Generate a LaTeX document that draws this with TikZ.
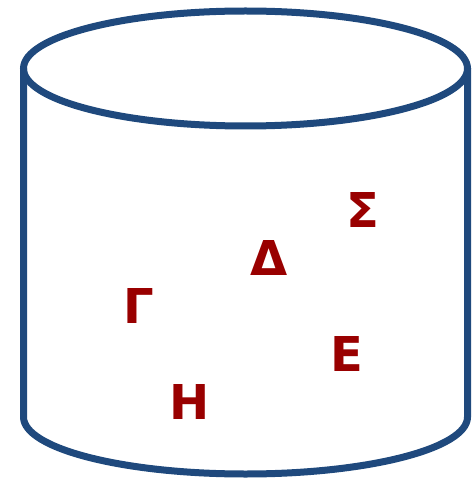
\documentclass[tikz,border=0pt]{standalone}
\usepackage{fontspec}
\setmainfont{DejaVu Sans}
\usepackage{tikz}
\definecolor{drumblue}{HTML}{1F497D}
\definecolor{letterred}{HTML}{990000}

\begin{document}
\begin{tikzpicture}[
    x=1pt, y=-1pt,
    drum/.style={draw=drumblue, line width=7pt},
    letter/.style={text=letterred, font=\fontsize{48}{48}\selectfont\bfseries, inner sep=0pt, anchor=center},
  ]
    \useasboundingbox (0,0) rectangle (471,478);

    % cylinder
    \draw[drum] (245.5,68.5) ellipse [x radius=222, y radius=57.5];
    \draw[drum] (23.5,68.5) -- (23.5,417)
      arc[start angle=180, end angle=360, x radius=222, y radius=-57] -- (467.5,68.5);

    % letters
    \node[letter] (sigma) at (362.5,210.5) {Σ};
    \node[letter] (delta) at (269,258.5) {Δ};
    \node[letter] (gamma) at (139,306) {Γ};
    \node[letter] (epsilon) at (346.5,354) {Ε};
    \node[letter] (eta) at (190,401.5) {Η};
  \end{tikzpicture}
\end{document}
